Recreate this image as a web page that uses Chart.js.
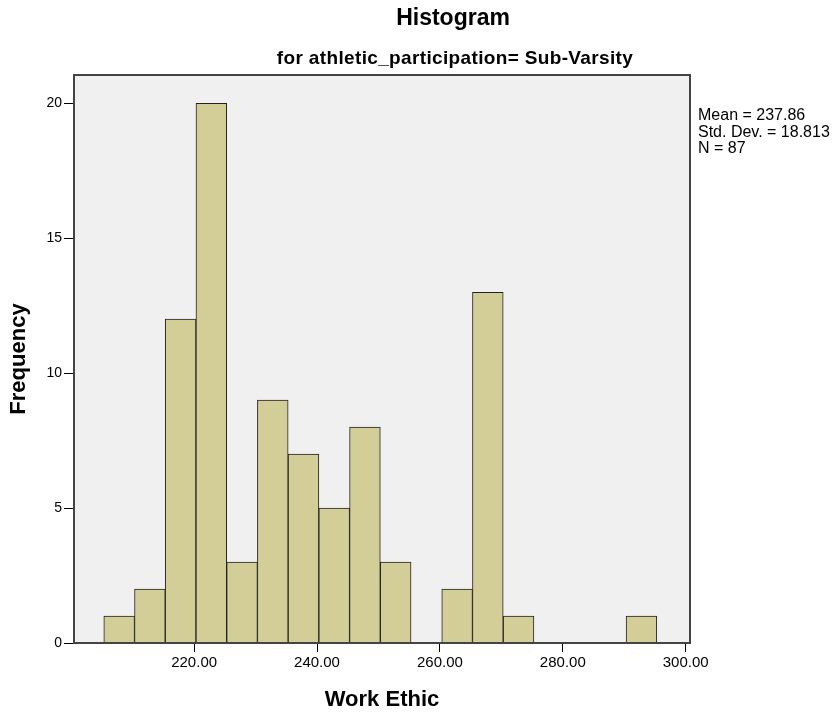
<!DOCTYPE html>
<html><head><meta charset="utf-8">
<script src="https://cdn.jsdelivr.net/npm/chart.js@4.4.1/dist/chart.umd.min.js"></script>
<style>html,body{margin:0;padding:0;background:#fff}#wrap{width:837px;height:715px}</style>
</head><body><div id="wrap"><canvas id="c" width="837" height="715"></canvas></div>
<script>
const binStarts = [205.3,210.3,215.3,220.3,225.3,230.3,235.3,240.3,245.3,250.3,255.3,260.3,265.3,270.3,275.3,280.3,285.3,290.3];
const binWidth = 5;
const counts = [1,2,12,20,3,9,7,5,8,3,0,2,13,1,0,0,0,1];
const xTicks = [220,240,260,280,300];
const yTicks = [0,5,10,15,20];
const titleText = 'Histogram';
const subtitleText = 'for athletic_participation= Sub-Varsity';
const statsLines = ['Mean = 237.86','Std. Dev. = 18.813','N = 87'];
const xLabel = 'Work Ethic';
const yLabel = 'Frequency';

const points = binStarts.map((s,i)=>({x:s+binWidth/2, y:counts[i]}));
const FONT = '"Liberation Sans", Arial, sans-serif';

const deco = {
  id:'deco',
  beforeDraw(chart){
    const {ctx, chartArea:a} = chart;
    ctx.save();
    ctx.fillStyle='#f0f0f0';
    ctx.fillRect(a.left,a.top,a.right-a.left,a.bottom-a.top);
    ctx.restore();
  },
  afterDraw(chart){
    const {ctx, chartArea:a} = chart;
    ctx.save();
    ctx.strokeStyle='#444';
    ctx.lineWidth=2;
    ctx.strokeRect(a.left,a.top,a.right-a.left,a.bottom-a.top);
    ctx.fillStyle='#000';
    ctx.textAlign='center';
    ctx.textBaseline='alphabetic';
    ctx.font='bold 23px '+FONT;
    ctx.fillText(titleText,453,25);
    ctx.font='bold 19px '+FONT;
    ctx.letterSpacing='0.35px';
    ctx.fillText(subtitleText,455,64);
    ctx.letterSpacing='0px';
    ctx.textAlign='left';
    ctx.font='16px '+FONT;
    statsLines.forEach((t,i)=>ctx.fillText(t,698,120+i*16.5));
    ctx.restore();
  }
};

new Chart(document.getElementById('c'),{
  type:'bar',
  data:{datasets:[{data:points,backgroundColor:'#d3ce97',borderColor:'#222',borderWidth:1,barPercentage:1,categoryPercentage:1,borderSkipped:'bottom'}]},
  options:{
    responsive:false,animation:false,
    layout:{padding:{left:0,right:147,top:75,bottom:0}},
    plugins:{legend:{display:false},tooltip:{enabled:false}},
    scales:{
      x:{type:'linear',min:200.45,max:300.7,offset:false,
        afterFit(s){s.height=72;},
        afterBuildTicks(s){s.ticks=xTicks.map(v=>({value:v}));},
        grid:{offset:false,drawOnChartArea:false,drawTicks:true,tickLength:9,color:'#000',tickWidth:1},
        border:{display:false},
        ticks:{color:'#000',font:{family:FONT,size:15},padding:2,callback:v=>Number(v).toFixed(2),maxRotation:0,autoSkip:false},
        title:{display:true,text:xLabel,color:'#000',font:{family:FONT,size:22,weight:'bold'},padding:{top:8,bottom:2}}
      },
      y:{min:0,max:21.05,
        afterFit(s){s.width=74;},
        afterBuildTicks(s){s.ticks=yTicks.map(v=>({value:v}));},
        grid:{drawOnChartArea:false,drawTicks:true,tickLength:10,color:'#000',tickWidth:1},
        border:{display:false},
        ticks:{color:'#000',font:{family:FONT,size:14},padding:2,autoSkip:false},
        title:{display:true,text:yLabel,color:'#000',font:{family:FONT,size:22,weight:'bold'},padding:{top:6,bottom:0}}
      }
    }
  },
  plugins:[deco]
});
</script></body></html>
